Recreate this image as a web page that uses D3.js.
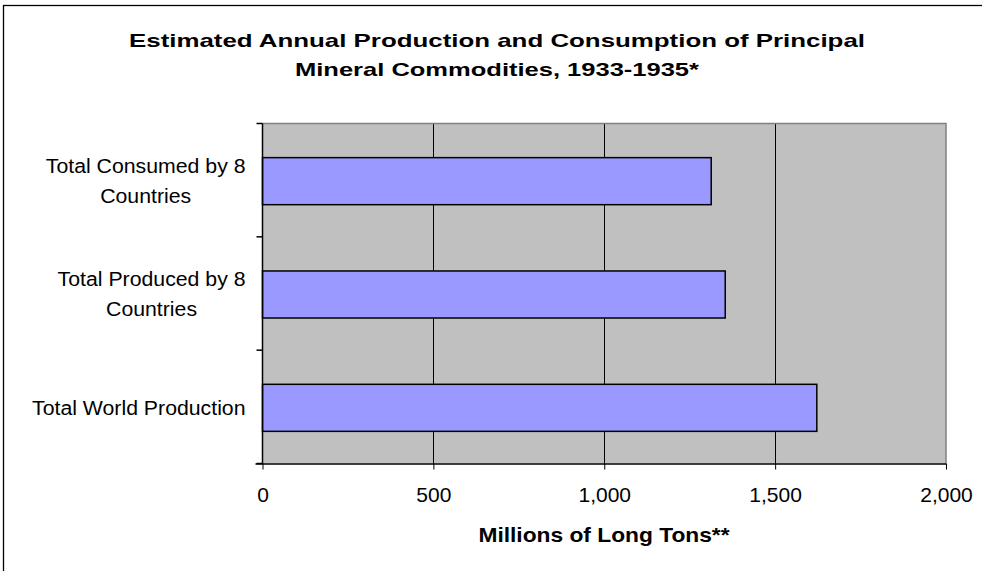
<!DOCTYPE html>
<html>
<head>
<meta charset="utf-8">
<script src="https://cdn.jsdelivr.net/npm/d3@7"></script>
<style>
  html, body { margin: 0; padding: 0; background: #fff; }
  svg { display: block; }
  text { font-family: "Liberation Sans", Arial, sans-serif; fill: #000; }
</style>
</head>
<body>
<svg id="chart" width="982" height="571"></svg>
<script>
// Categories, top to bottom
const categories = [
  ["Total Consumed by 8", "Countries"],
  ["Total Produced by 8", "Countries"],
  ["Total World Production"]
];
const categoryKeys = ["consumed", "produced", "world"];
// Millions of long tons
const values = [1313, 1354, 1622];
const xTicks = [0, 500, 1000, 1500, 2000];
const titleLines = [
  "Estimated Annual Production and Consumption of Principal",
  "Mineral Commodities, 1933-1935*"
];
const xAxisTitle = "Millions of Long Tons**";

const svg = d3.select("#chart");
const plot = { left: 262.5, right: 946, top: 123.5, bottom: 463.5 };

// Widen a text element's glyphs horizontally by a factor
function stretch(sel, factor) {
  sel.each(function () {
    const w = this.getComputedTextLength();
    d3.select(this).attr("textLength", w * factor).attr("lengthAdjust", "spacingAndGlyphs");
  });
}

// Chart frame
svg.append("rect")
  .attr("x", 3.5).attr("y", 5.5)
  .attr("width", 1000).attr("height", 600)
  .attr("fill", "#fff").attr("stroke", "#000").attr("stroke-width", 1.3);

const x = d3.scaleLinear().domain([0, 2000]).range([plot.left, plot.right]);
const y = d3.scaleBand().domain(categoryKeys).range([plot.top, plot.bottom])
  .paddingInner(0.585).paddingOuter(0.2925).align(0.515);

// Plot background
svg.append("rect")
  .attr("x", plot.left).attr("y", plot.top)
  .attr("width", plot.right - plot.left).attr("height", plot.bottom - plot.top)
  .attr("fill", "#C0C0C0");

// Vertical gridlines
svg.append("g").selectAll("line")
  .data(xTicks.filter(t => t > 0 && t < 2000))
  .join("line")
  .attr("x1", d => Math.round(x(d)) + 0.5).attr("x2", d => Math.round(x(d)) + 0.5)
  .attr("y1", plot.top).attr("y2", plot.bottom)
  .attr("stroke", "#000").attr("stroke-width", 1);

// Plot border top and right
svg.append("path")
  .attr("d", `M${plot.left},${plot.top}H${plot.right}V${plot.bottom}`)
  .attr("fill", "none").attr("stroke", "#808080").attr("stroke-width", 1.5);

// Bars
svg.append("g").selectAll("rect")
  .data(values)
  .join("rect")
  .attr("x", x(0))
  .attr("y", (d, i) => y(categoryKeys[i]))
  .attr("width", d => x(d) - x(0))
  .attr("height", y.bandwidth())
  .attr("fill", "#9999FF")
  .attr("stroke", "#000").attr("stroke-width", 1.5);

// X axis
const xAxis = svg.append("g")
  .attr("transform", `translate(0,${plot.bottom})`)
  .call(d3.axisBottom(x).tickValues(xTicks).tickSize(6).tickSizeOuter(0)
    .tickFormat(d3.format(",")));
xAxis.select(".domain").attr("stroke", "#000").attr("stroke-width", 1.5)
  .attr("d", `M${plot.left - 7},0.5H${plot.right}`);
xAxis.selectAll(".tick line").attr("stroke", "#000");
xAxis.selectAll(".tick text")
  .attr("y", 38.5).attr("dy", null)
  .style("font-size", "21px").style("font-family", "Liberation Sans, Arial, sans-serif");

// Y axis line and category boundary ticks
svg.append("line")
  .attr("x1", plot.left).attr("x2", plot.left)
  .attr("y1", plot.top).attr("y2", plot.bottom)
  .attr("stroke", "#000").attr("stroke-width", 1.5);
const step = (plot.bottom - plot.top) / categoryKeys.length;
svg.append("g").selectAll("line")
  .data(d3.range(categoryKeys.length + 1))
  .join("line")
  .attr("x1", plot.left - 6).attr("x2", plot.left)
  .attr("y1", i => plot.top + i * step).attr("y2", i => plot.top + i * step)
  .attr("stroke", "#000").attr("stroke-width", 1.5);

// Category labels: block right-aligned to the axis, lines centred within the block
const lineH = 30;
categories.forEach((lines, i) => {
  const cy = y(categoryKeys[i]) + y.bandwidth() / 2;
  const g = svg.append("g");
  const texts = g.selectAll("text").data(lines).join("text")
    .attr("text-anchor", "middle")
    .style("font-size", "19.5px")
    .attr("y", (d, j) => cy + 7 + (j - (lines.length - 1) / 2) * lineH)
    .text(d => d);
  stretch(texts, 1.09);
  let maxW = 0;
  texts.each(function () { maxW = Math.max(maxW, +this.getAttribute("textLength")); });
  texts.attr("x", 245.5 - maxW / 2);
});

// Title
const titleWidths = [736, 404];
svg.append("g").selectAll("text")
  .data(titleLines)
  .join("text")
  .attr("x", 497).attr("y", (d, i) => 47 + i * 29.3)
  .attr("text-anchor", "middle")
  .attr("textLength", (d, i) => titleWidths[i])
  .attr("lengthAdjust", "spacingAndGlyphs")
  .style("font-size", "19px").style("font-weight", "bold")
  .text(d => d);

// X axis title
const axisTitle = svg.append("text")
  .attr("x", 604).attr("y", 542)
  .attr("text-anchor", "middle")
  .style("font-size", "20.5px").style("font-weight", "bold")
  .text(xAxisTitle);
stretch(axisTitle, 1.11);
</script>
</body>
</html>
